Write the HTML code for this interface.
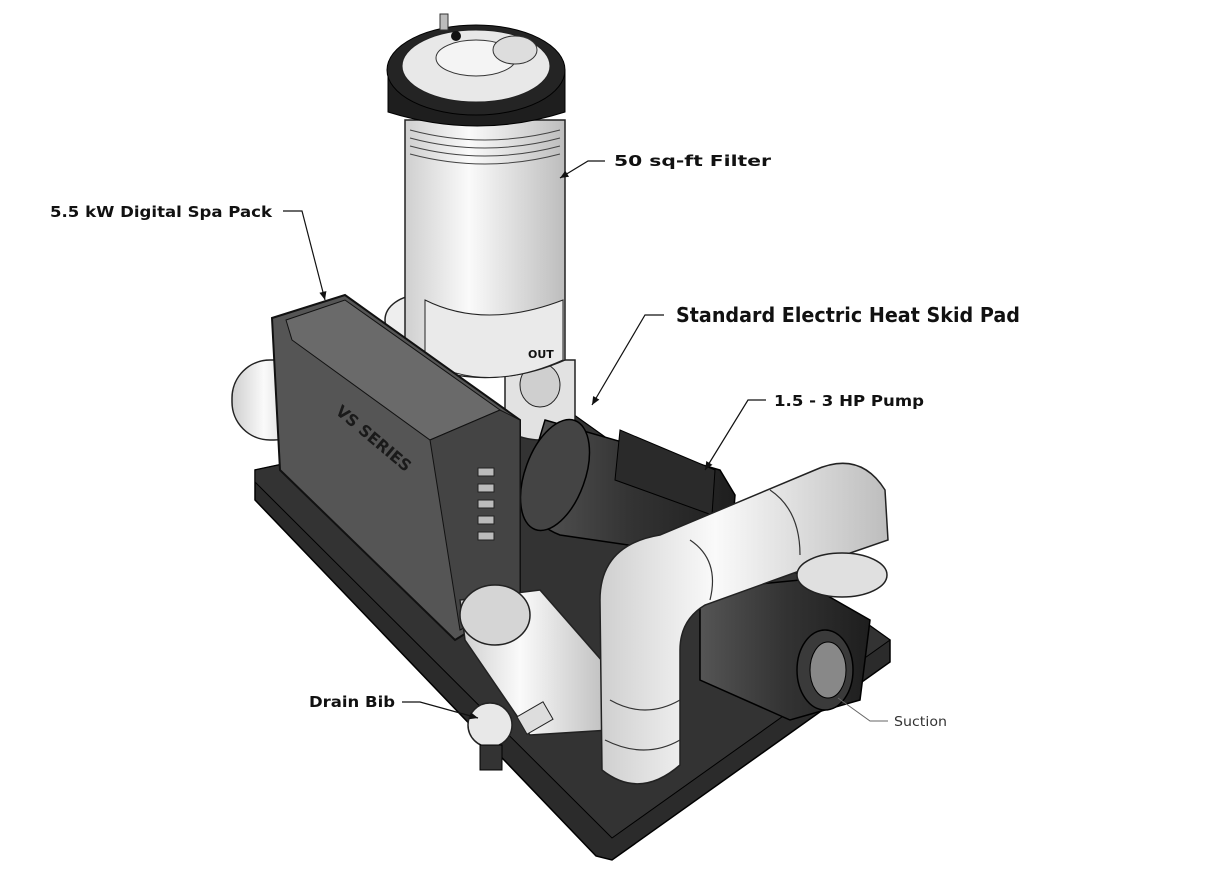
<!DOCTYPE html>
<html><head><meta charset="utf-8"><style>
html,body{margin:0;padding:0;background:#fff;}
svg{display:block}
text{font-family:"DejaVu Sans","Liberation Sans",sans-serif;font-weight:bold;fill:#111}
</style></head><body>
<svg width="1212" height="892" viewBox="0 0 1212 892" xmlns="http://www.w3.org/2000/svg">
<defs>
<marker id="a" markerWidth="8" markerHeight="8" refX="7" refY="4" orient="auto"><path d="M0,1 L7,4 L0,7 z" fill="#111"/></marker>
<linearGradient id="pipe" x1="0" x2="1"><stop offset="0" stop-color="#cfcfcf"/><stop offset="0.4" stop-color="#fafafa"/><stop offset="1" stop-color="#bdbdbd"/></linearGradient>
<linearGradient id="dark" x1="0" x2="1"><stop offset="0" stop-color="#555"/><stop offset="0.5" stop-color="#333"/><stop offset="1" stop-color="#1e1e1e"/></linearGradient>
</defs>
<!-- skid pad -->
<polygon points="255,470 560,405 890,640 890,662 612,860 596,856 255,500" fill="#2b2b2b" stroke="#000" stroke-width="1.5"/>
<polygon points="255,470 560,405 890,640 612,838 255,482" fill="#333" stroke="#000"/>
<!-- left pipes behind spa pack -->
<rect x="232" y="360" width="80" height="80" rx="38" fill="url(#pipe)" stroke="#222" stroke-width="1.5"/>
<ellipse cx="420" cy="320" rx="35" ry="25" fill="#eee" stroke="#222" stroke-width="1.5"/>
<!-- filter base & body -->
<path d="M505,360 L575,360 L575,430 Q540,450 505,430 Z" fill="#e2e2e2" stroke="#222" stroke-width="1.5"/>
<ellipse cx="540" cy="385" rx="20" ry="22" fill="#cfcfcf" stroke="#222"/>
<path d="M405,120 L565,120 L565,360 Q485,395 405,360 Z" fill="url(#pipe)" stroke="#222" stroke-width="1.5"/>
<path d="M425,300 Q485,330 563,300 L563,360 Q485,395 425,360 Z" fill="#eaeaea" stroke="#222"/>
<text x="528" y="358" font-size="11">OUT</text>
<g stroke="#444" fill="none">
<path d="M410,130 Q485,150 560,130"/><path d="M410,138 Q485,158 560,138"/><path d="M410,146 Q485,166 560,146"/><path d="M410,154 Q485,174 560,154"/>
</g>
<!-- filter cap -->
<path d="M388,70 L565,70 L565,112 Q478,140 388,112 Z" fill="#1e1e1e" stroke="#000"/>
<ellipse cx="476" cy="70" rx="89" ry="45" fill="#242424" stroke="#000"/>
<ellipse cx="476" cy="66" rx="74" ry="36" fill="#e8e8e8" stroke="#222"/>
<ellipse cx="476" cy="58" rx="40" ry="18" fill="#f4f4f4" stroke="#333"/>
<ellipse cx="515" cy="50" rx="22" ry="14" fill="#ddd" stroke="#333"/>
<circle cx="456" cy="36" r="5" fill="#111"/>
<rect x="440" y="14" width="8" height="16" fill="#bbb" stroke="#333"/>
<!-- motor -->
<path d="M545,420 L720,470 L735,495 L730,560 L560,535 Q520,520 530,470 Z" fill="url(#dark)" stroke="#000" stroke-width="1.5"/>
<ellipse cx="555" cy="475" rx="30" ry="58" fill="#444" stroke="#000" stroke-width="1.5" transform="rotate(20 555 475)"/>
<path d="M620,430 L715,470 L712,515 L615,480 Z" fill="#2a2a2a" stroke="#000"/>
<!-- spa pack -->
<polygon points="272,318 345,295 520,420 520,600 455,640 280,470" fill="#555" stroke="#111" stroke-width="2"/>
<polygon points="286,320 345,300 500,410 430,440 292,340" fill="#6a6a6a" stroke="#111"/>
<polygon points="430,440 500,410 520,420 520,600 460,630" fill="#444" stroke="#111"/>
<text x="312" y="425" font-size="16" fill="#222" transform="rotate(40 340 450)" style="fill:#1a1a1a">VS SERIES</text>
<g fill="#bbb" stroke="#222"><rect x="478" y="468" width="16" height="8"/><rect x="478" y="484" width="16" height="8"/><rect x="478" y="500" width="16" height="8"/><rect x="478" y="516" width="16" height="8"/><rect x="478" y="532" width="16" height="8"/></g>
<!-- pipe from spa pack to drain -->
<path d="M460,600 L540,590 L610,670 L610,730 L530,735 L465,640 Z" fill="url(#pipe)" stroke="#222" stroke-width="1.5"/>
<ellipse cx="495" cy="615" rx="35" ry="30" fill="#d5d5d5" stroke="#222" stroke-width="1.5"/>
<!-- pump volute -->
<path d="M700,590 L800,580 L870,620 L860,700 L790,720 L700,680 Z" fill="url(#dark)" stroke="#000" stroke-width="1.5"/>
<ellipse cx="825" cy="670" rx="28" ry="40" fill="#3a3a3a" stroke="#000" stroke-width="1.5"/>
<ellipse cx="828" cy="670" rx="18" ry="28" fill="#888" stroke="#000"/>
<!-- big white pipes -->
<path d="M600,600 Q600,545 660,535 L815,470 Q860,450 885,490 L888,540 L830,560 L705,605 Q680,620 680,650 L680,765 Q640,800 602,770 Z" fill="url(#pipe)" stroke="#222" stroke-width="1.5"/>
<g stroke="#333" fill="none" stroke-width="1.2">
<path d="M690,540 Q720,560 710,600"/><path d="M770,490 Q800,510 800,555"/><path d="M610,700 Q645,720 680,700"/><path d="M605,740 Q645,760 680,740"/>
</g>
<ellipse cx="842" cy="575" rx="45" ry="22" fill="#e0e0e0" stroke="#222" stroke-width="1.5"/>
<!-- drain bib -->
<circle cx="490" cy="725" r="22" fill="#e8e8e8" stroke="#222" stroke-width="1.5"/>
<rect x="480" y="745" width="22" height="25" fill="#333" stroke="#000"/>
<rect x="520" y="708" width="30" height="20" fill="#ddd" stroke="#222" transform="rotate(-30 535 718)"/>
<!-- labels -->
<g stroke="#111" stroke-width="1.2" fill="none">
<polyline points="605,161 588,161 560,178" marker-end="url(#a)"/>
<polyline points="283,211 302,211 325,300" marker-end="url(#a)"/>
<polyline points="664,315 645,315 592,405" marker-end="url(#a)"/>
<polyline points="766,400 748,400 705,470" marker-end="url(#a)"/>
<polyline points="402,702 420,702 478,718" marker-end="url(#a)"/>
</g>
<polyline points="888,721 870,721 838,698" stroke="#666" fill="none" stroke-width="1"/>
<text x="614" y="166" font-size="15" textLength="157" lengthAdjust="spacingAndGlyphs">50 sq-ft Filter</text>
<text x="50" y="217" font-size="15" textLength="222" lengthAdjust="spacingAndGlyphs">5.5 kW Digital Spa Pack</text>
<text x="676" y="322" font-size="20" textLength="344" lengthAdjust="spacingAndGlyphs">Standard Electric Heat Skid Pad</text>
<text x="774" y="406" font-size="15" textLength="150" lengthAdjust="spacingAndGlyphs">1.5 - 3 HP Pump</text>
<text x="309" y="707" font-size="15" textLength="86" lengthAdjust="spacingAndGlyphs">Drain Bib</text>
<text x="894" y="726" font-size="13" style="font-weight:normal;fill:#333" textLength="53" lengthAdjust="spacingAndGlyphs">Suction</text>
</svg>
</body></html>
